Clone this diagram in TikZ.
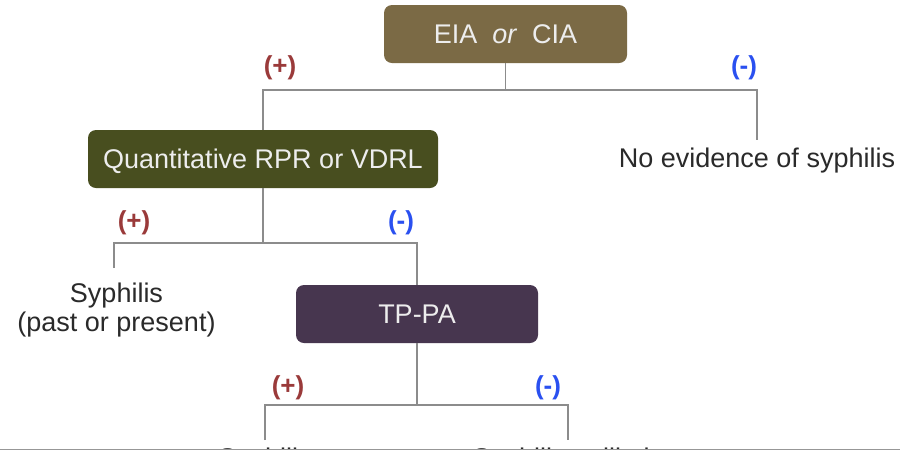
\documentclass[tikz,border=0pt]{standalone}
\usepackage{fontspec}
\setmainfont{Liberation Sans}
\definecolor{eiabrown}{HTML}{7B6A45}
\definecolor{rprolive}{HTML}{484E1F}
\definecolor{tppurple}{HTML}{47364F}
\definecolor{posred}{HTML}{9A3A3A}
\definecolor{negblue}{HTML}{2A50F0}
\definecolor{linkgray}{HTML}{8C8C8C}
\definecolor{textgray}{HTML}{2A2A2A}
\definecolor{boxtext}{HTML}{EDEDED}
\tikzset{
  testbox/.style={rounded corners=8pt, draw=none, text=boxtext,
    font=\fontsize{27}{31}\selectfont, minimum height=58pt,
    text height=19.3pt, text depth=0pt, inner sep=0pt},
  link/.style={draw=linkgray, line width=1.5pt},
  result/.style={text=textgray, font=\fontsize{27}{29}\selectfont, inner sep=0pt},
  poslabel/.style={text=posred, font=\bfseries\fontsize{26}{28}\selectfont, inner sep=0pt},
  neglabel/.style={text=negblue, font=\bfseries\fontsize{26}{28}\selectfont, inner sep=0pt}
}
\begin{document}
\begin{tikzpicture}[x=1pt, y=-1pt]
\useasboundingbox[fill=white] (0,0) rectangle (900,451);

% test boxes
\node[testbox, fill=eiabrown, minimum width=243pt] (eia) at (505.5,34) {EIA\ \ \textit{or}\ \ CIA};
\node[testbox, fill=rprolive, minimum width=350pt] (quant) at (263,159) {Quantitative RPR or VDRL};
\node[testbox, fill=tppurple, minimum width=242pt] (tppa) at (417,314) {TP-PA};

% results
\node[result, anchor=base] (noev) at (757,167) {No evidence of syphilis};
\node[result, anchor=base, align=center] (past) at (116.5,331) {Syphilis\\(past or present)};

% branch labels
\node[poslabel] (p1) at (280,68) {(+)};
\node[neglabel] (n1) at (744,68) {(-)};
\node[poslabel] (p2) at (134,223) {(+)};
\node[neglabel] (n2) at (401,223) {(-)};
\node[poslabel] (p3) at (288,388) {(+)};
\node[neglabel] (n3) at (548,388) {(-)};

% branch junctions and free ends
\coordinate (j1) at (505.5,90);
\coordinate (e1) at (757,140);
\coordinate (j2) at (263,243);
\coordinate (e2) at (114,268);
\coordinate (j3) at (417,405);
\coordinate (e3) at (265,440);
\coordinate (e4) at (568,440);

\draw[link] (eia.south) -- (j1);
\draw[link] (quant.north) |- (j1) -| (e1);
\draw[link] (quant.south) -- (j2);
\draw[link] (e2) |- (j2) -| (tppa.north);
\draw[link] (tppa.south) -- (j3);
\draw[link] (e3) |- (j3) -| (e4);

% outcomes below the TP-PA branch, cut off at the lower edge
\begin{scope}
\clip (0,0) rectangle (900,448.5);
\node[result, anchor=base] (syph2) at (265,467.5) {Syphilis};
\node[result, anchor=base] (unlik) at (568,467.5) {Syphilis unlikely};
\end{scope}
\coordinate (bl) at (0,449.5);
\coordinate (br) at (900,449.5);
\draw[draw=linkgray!90, line width=1.6pt] (bl) -- (br);
\end{tikzpicture}
\end{document}
